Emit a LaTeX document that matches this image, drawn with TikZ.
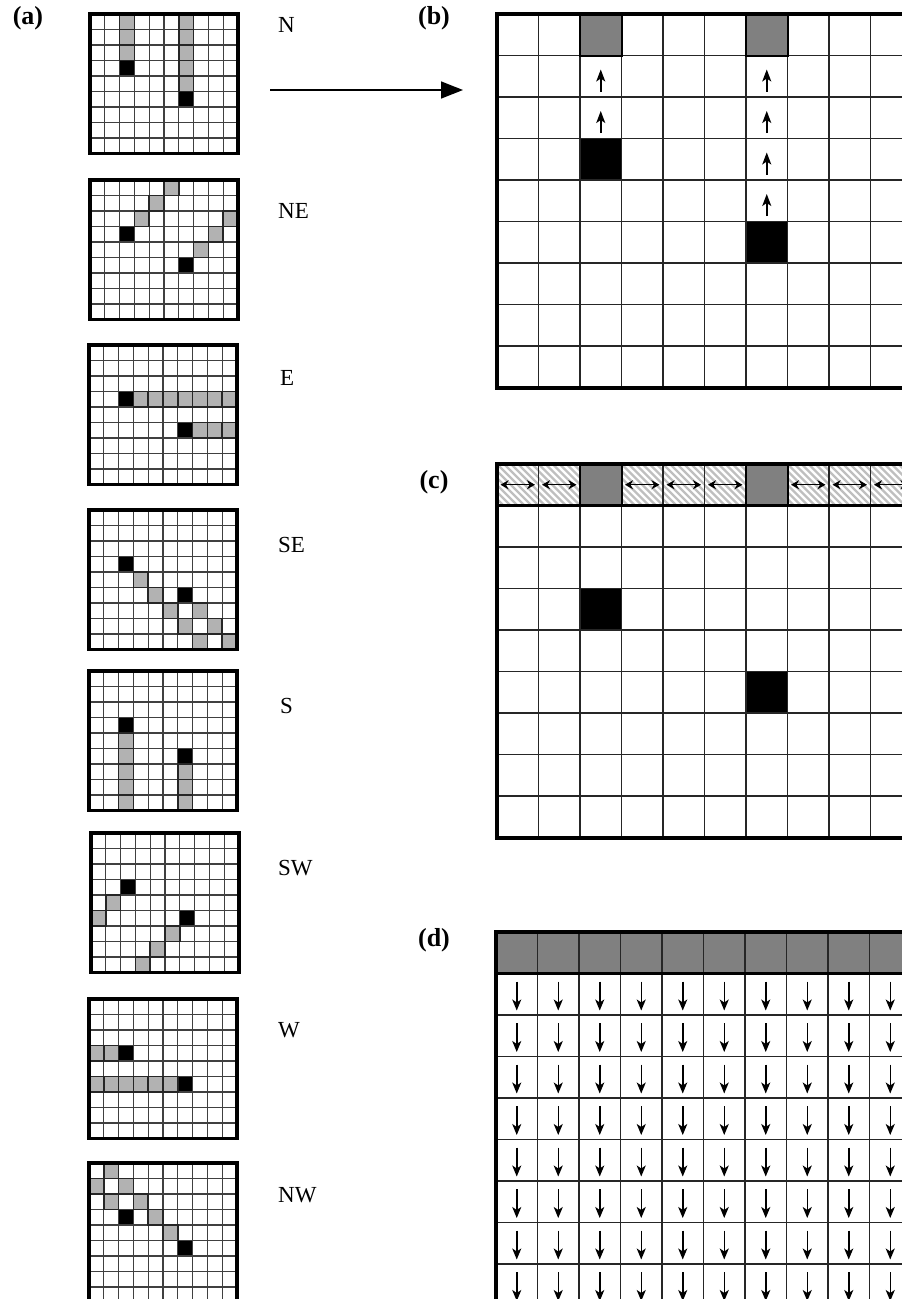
\documentclass[tikz,border=0pt]{standalone}
\usepackage{fontspec}
\setmainfont{Liberation Serif}
\usetikzlibrary{arrows.meta}
\tikzset{
  sline/.style={line width=1.3pt, draw=black!75},
  bline/.style={line width=1.2pt, draw=black!85},
  graycell/.style={fill=gray!60},
  darkgray/.style={fill=black!50},
  hatchline/.style={draw=gray!50, line width=2.2pt},
  uparr/.style={line width=1.5pt, -{Stealth[length=12pt,width=9pt,inset=3pt]}},
  dnarr/.style={line width=1.5pt, -{Stealth[length=11pt,width=9pt,inset=3pt]}},
  lrarr/.style={line width=1.3pt, {Stealth[length=8pt,width=9pt,inset=2.5pt]}-{Stealth[length=8pt,width=9pt,inset=2.5pt]}},
  dirlabel/.style={anchor=west, inner sep=0pt, font=\fontsize{23}{23}\selectfont},
  panellabel/.style={inner sep=0pt, font=\fontsize{26}{26}\selectfont\bfseries},
}
\newcommand{\sgrid}[4]{%
 \begin{scope}[shift={(#1,#2)}]
  \foreach \rr/\cc in {#3} \fill[graycell] (\cc*14.8,\rr*15.5) rectangle ++(14.8,15.5);
  \foreach \rr/\cc in {#4} \fill[black] (\cc*14.8,\rr*15.5) rectangle ++(14.8,15.5);
  \foreach \ii in {1,...,9} \draw[sline] (\ii*14.8,0) -- (\ii*14.8,139.5);
  \foreach \jj in {1,...,8} \draw[sline] (0,\jj*15.5) -- (148,\jj*15.5);
  \foreach \rr/\cc in {#3} \draw[line width=1.5pt, draw=black!85] (\cc*14.8,\rr*15.5) rectangle ++(14.8,15.5);
  \draw[line width=3.2pt] (0,0) rectangle (148,139.5);
 \end{scope}}
\newcommand{\biglines}{%
  \foreach \ii in {1,...,9} \draw[bline] (\ii*41.5,0) -- (\ii*41.5,373.5);
  \foreach \jj in {1,...,8} \draw[bline] (0,\jj*41.5) -- (415,\jj*41.5);}
\begin{document}
\begin{tikzpicture}[x=1pt,y=-1pt]
\useasboundingbox (0,0) rectangle (902,1299);
\clip (0,0) rectangle (902,1299);
\fill[white] (0,0) rectangle (902,1299);

% ---------- (a) small grids ----------
\sgrid{90}{14}{0/2,1/2,2/2,0/6,1/6,2/6,3/6,4/6}{3/2,5/6}
\sgrid{90}{180}{2/3,1/4,0/5,4/7,3/8,2/9}{3/2,5/6}
\sgrid{89}{345}{3/3,3/4,3/5,3/6,3/7,3/8,3/9,5/7,5/8,5/9}{3/2,5/6}
\sgrid{89}{510}{4/3,5/4,6/5,7/6,8/7,6/7,7/8,8/9}{3/2,5/6}
\sgrid{89}{671}{4/2,5/2,6/2,7/2,8/2,6/6,7/6,8/6}{3/2,5/6}
\sgrid{91}{833}{4/1,5/0,6/5,7/4,8/3}{3/2,5/6}
\sgrid{89}{999}{3/0,3/1,5/0,5/1,5/2,5/3,5/4,5/5}{3/2,5/6}
\sgrid{89}{1163}{2/1,1/0,0/1,1/2,2/3,3/4,4/5}{3/2,5/6}

\node[panellabel] (la) at (28,18) {(a)};
\node[dirlabel] (dN)  at (278,25)   {N};
\node[dirlabel] (dNE) at (278,211)  {NE};
\node[dirlabel] (dE)  at (280,378)  {E};
\node[dirlabel] (dSE) at (278,545)  {SE};
\node[dirlabel] (dS)  at (280,706)  {S};
\node[dirlabel] (dSW) at (278,868)  {SW};
\node[dirlabel] (dW)  at (278,1030) {W};
\node[dirlabel] (dNW) at (278,1195) {NW};

\coordinate (astart) at (270,90);
\coordinate (aend) at (463,90);
\draw[line width=1.5pt, -{Triangle[length=22pt,width=17pt]}] (astart) -- (aend);

% ---------- (b) ----------
\node[panellabel] (lb) at (434,18) {(b)};
\begin{scope}[shift={(497,14)}]
  \foreach \cc in {2,6} \fill[darkgray] (\cc*41.5,0) rectangle ++(41.5,41.5);
  \fill[black] (2*41.5,3*41.5) rectangle ++(41.5,41.5);
  \fill[black] (6*41.5,5*41.5) rectangle ++(41.5,41.5);
  \biglines
  \foreach \cc in {2,6} \draw[line width=2pt] (\cc*41.5,0) rectangle ++(41.5,41.5);
  \foreach \rr/\cc in {1/2,2/2,1/6,2/6,3/6,4/6}
    \draw[uparr] (\cc*41.5+20.75,\rr*41.5+36) -- ++(0,-22);
  \draw[line width=4pt] (0,0) rectangle (415,373.5);
\end{scope}

% ---------- (c) ----------
\node[panellabel] (lc) at (434,482) {(c)};
\begin{scope}[shift={(497,464)}]
  \foreach \cc in {0,1,3,4,5,7,8,9} {
    \begin{scope}
      \clip (\cc*41.5,0) rectangle ++(41.5,41.5);
      \foreach \kk in {-49,-42,...,49} \draw[hatchline] (\cc*41.5+\kk,0) -- ++(41.5,41.5);
    \end{scope}
  }
  \foreach \cc in {2,6} \fill[darkgray] (\cc*41.5,0) rectangle ++(41.5,41.5);
  \fill[black] (2*41.5,3*41.5) rectangle ++(41.5,41.5);
  \fill[black] (6*41.5,5*41.5) rectangle ++(41.5,41.5);
  \biglines
  \foreach \cc in {2,6} \draw[line width=2pt] (\cc*41.5,0) rectangle ++(41.5,41.5);
  \foreach \cc in {0,1,3,4,5,7,8,9}
    \draw[lrarr] (\cc*41.5+3.5,20.75) -- (\cc*41.5+38,20.75);
  \draw[line width=3pt] (0,41.5) -- (415,41.5);
  \draw[line width=4pt] (0,0) rectangle (415,373.5);
\end{scope}

% ---------- (d) ----------
\node[panellabel] (ld) at (434,940) {(d)};
\begin{scope}[shift={(496,932)}]
  \fill[darkgray] (0,0) rectangle (415,41.5);
  \biglines
  \foreach \rr in {1,...,8}
    \foreach \cc in {0,...,9}
      \draw[dnarr] (\cc*41.5+20.75,\rr*41.5+8) -- ++(0,29);
  \draw[line width=3pt] (0,41.5) -- (415,41.5);
  \draw[line width=4pt] (0,0) rectangle (415,373.5);
\end{scope}
\end{tikzpicture}
\end{document}
